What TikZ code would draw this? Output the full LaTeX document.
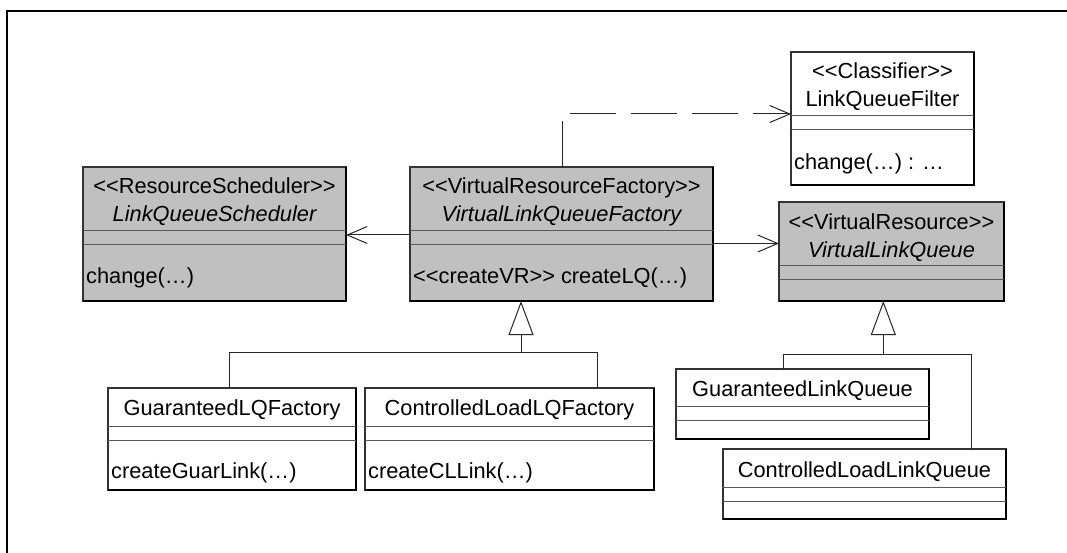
\documentclass[tikz,border=0pt]{standalone}
\usepackage{fontspec}
\setmainfont{Liberation Sans}
\usetikzlibrary{arrows.meta,calc}
\definecolor{boxgray}{RGB}{192,192,192}
\begin{document}
\begin{tikzpicture}[x=1pt,y=-1pt,
  umlbox/.style={draw=black!80,line width=1.1pt,inner sep=0pt,outer sep=0pt,anchor=north west},
  shadowedge/.style={draw=black,line width=2pt},
  divider/.style={draw=black!65,line width=1pt},
  cltxt/.style={anchor=base,inner sep=0pt,font=\fontsize{21.8pt}{25pt}\selectfont},
  itxt/.style={anchor=base,inner sep=0pt,font=\fontsize{21.8pt}{25pt}\selectfont\itshape},
  optxt/.style={anchor=base west,inner sep=0pt,font=\fontsize{21.8pt}{25pt}\selectfont},
  conn/.style={draw=black!85,line width=1pt},
  assoc/.style={conn,-{Straight Barb[length=20pt,width=17pt]}},
  gen/.style={conn,-{Triangle[open,length=34pt,width=25pt]}},
]
\useasboundingbox (0,0) rectangle (1067,553);
\fill[white] (0,0) rectangle (1067,553);
% frame
\draw[line width=2.2pt,line cap=rect] (1067,11) -- (7,11) -- (7,553);

% LinkQueueScheduler
\node[umlbox,fill=boxgray,minimum width=263pt,minimum height=134pt] (lqs) at (83,167) {};
\draw[shadowedge] (lqs.south west) -- (lqs.south east) -- (lqs.north east);
\draw[divider] (83,231) -- (346,231);
\draw[divider] (83,244.5) -- (346,244.5);
\node[cltxt] (lqsst) at (214.5,194) {<{}<ResourceScheduler>{}>};
\node[itxt] (lqsnm) at (214.5,221.5) {LinkQueueScheduler};
\node[optxt] (lqsop) at (86,283) {change(…)};

% VirtualLinkQueueFactory
\node[umlbox,fill=boxgray,minimum width=303pt,minimum height=134pt] (vlqf) at (410,167) {};
\draw[shadowedge] (vlqf.south west) -- (vlqf.south east) -- (vlqf.north east);
\draw[divider] (410,231) -- (713,231);
\draw[divider] (410,244.5) -- (713,244.5);
\node[cltxt] (vlqfst) at (561.5,194) {<{}<VirtualResourceFactory>{}>};
\node[itxt] (vlqfnm) at (561.5,221.5) {VirtualLinkQueueFactory};
\node[optxt] (vlqfop) at (413,283) {<{}<createVR>{}> createLQ(…)};

% VirtualLinkQueue
\node[umlbox,fill=boxgray,minimum width=225pt,minimum height=99pt] (vlq) at (779,202) {};
\draw[shadowedge] (vlq.south west) -- (vlq.south east) -- (vlq.north east);
\draw[divider] (779,265.7) -- (1004,265.7);
\draw[divider] (779,279.3) -- (1004,279.3);
\node[cltxt] (vlqst) at (891.5,229.5) {<{}<VirtualResource>{}>};
\node[itxt] (vlqnm) at (891.5,257) {VirtualLinkQueue};

% LinkQueueFilter
\node[umlbox,fill=white,minimum width=183pt,minimum height=133pt] (lqf) at (791,52) {};
\draw[shadowedge] (lqf.south west) -- (lqf.south east) -- (lqf.north east);
\draw[divider] (791,116) -- (974,116);
\draw[divider] (791,130) -- (974,130);
\node[cltxt] (lqfst) at (882.5,79) {<{}<Classifier>{}>};
\node[cltxt] (lqfnm) at (882.5,107) {LinkQueueFilter};
\node[optxt] (lqfop) at (794,170) {change(…) : …};

% GuaranteedLQFactory
\node[umlbox,fill=white,minimum width=248pt,minimum height=102pt] (glqf) at (108,388) {};
\draw[shadowedge] (glqf.south west) -- (glqf.south east) -- (glqf.north east);
\draw[divider] (108,426) -- (356,426);
\draw[divider] (108,440) -- (356,440);
\node[cltxt] (glqfnm) at (232,415) {GuaranteedLQFactory};
\node[optxt] (glqfop) at (111,478) {createGuarLink(…)};

% ControlledLoadLQFactory
\node[umlbox,fill=white,minimum width=289pt,minimum height=102pt] (cllqf) at (365,388) {};
\draw[shadowedge] (cllqf.south west) -- (cllqf.south east) -- (cllqf.north east);
\draw[divider] (365,426) -- (654,426);
\draw[divider] (365,440) -- (654,440);
\node[cltxt] (cllqfnm) at (509.5,415) {ControlledLoadLQFactory};
\node[optxt] (cllqfop) at (368,478) {createCLLink(…)};

% GuaranteedLinkQueue
\node[umlbox,fill=white,minimum width=253pt,minimum height=70pt] (glq) at (676,369) {};
\draw[shadowedge] (glq.south west) -- (glq.south east) -- (glq.north east);
\draw[divider] (676,406) -- (929,406);
\draw[divider] (676,420) -- (929,420);
\node[cltxt] (glqnm) at (802.5,396.5) {GuaranteedLinkQueue};

% ControlledLoadLinkQueue
\node[umlbox,fill=white,minimum width=283pt,minimum height=70pt] (cllq) at (723,449) {};
\draw[shadowedge] (cllq.south west) -- (cllq.south east) -- (cllq.north east);
\draw[divider] (723,487) -- (1006,487);
\draw[divider] (723,501) -- (1006,501);
\node[cltxt] (cllqnm) at (864.5,477) {ControlledLoadLinkQueue};

% associations
\draw[assoc] ($(vlqf.north west)+(0,68)$) -- ($(lqs.north east)+(0,68)$);
\draw[assoc] ($(vlqf.north east)+(0,76.5)$) -- ($(vlq.north west)+(0,41.5)$);
\draw[conn,dash pattern=on 46pt off 15pt,-{Straight Barb[length=20pt,width=17pt]}]
  ($(vlqf.north west)+(152,0)$) |- ($(lqf.north west)+(0,62)$);

% generalizations
\coordinate (j1) at (521,352);
\draw[conn] ($(glqf.north west)+(121,0)$) -- ++(0,-36) -| ($(cllqf.north west)+(232,0)$);
\draw[gen] (j1) -- ($(vlqf.south west)+(111,0)$);

\coordinate (j2) at (883.3,354.3);
\draw[conn] ($(glq.north west)+(107.3,0)$) -- ++(0,-14.7) -| ($(cllq.north east)+(-35,0)$);
\draw[gen] (j2) -- ($(vlq.south west)+(104.3,0)$);
\end{tikzpicture}
\end{document}
